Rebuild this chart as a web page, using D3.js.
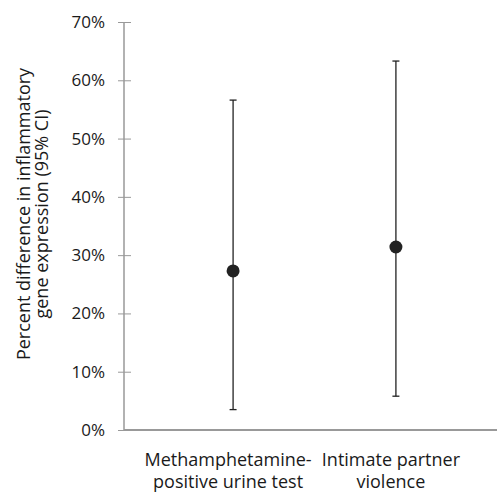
<!DOCTYPE html>
<html>
<head>
<meta charset="utf-8">
<script src="https://cdn.jsdelivr.net/npm/d3@7"></script>
<style>
  body { margin: 0; background: #fff; }
  svg { display: block; font-family: "Open Sans", sans-serif; }
</style>
</head>
<body>
<svg width="497" height="493"></svg>
<script>
var categories = [["Methamphetamine-", "positive urine test"], ["Intimate partner", "violence"]];
var estimates = [27.3, 31.4];
var lower = [3.5, 5.8];
var upper = [56.6, 63.3];
var yTicks = [0, 10, 20, 30, 40, 50, 60, 70];
var yLabel = ["Percent difference in inflammatory", "gene expression (95% CI)"];

var svg = d3.select("svg");
const width = +svg.attr("width");

var data = estimates.map((d, i) => {
  return { name: categories[i].join(" "), lines: categories[i], est: d, lo: lower[i], hi: upper[i] };
});

var x = d3
  .scalePoint()
  .domain(data.map(d => d.name))
  .range([124, 505])
  .padding(0.67);

var y = d3
  .scaleLinear()
  .domain([0, 70])
  .range([430, 22]);

// y axis, ticks cross the line like in excel
var yAxis = svg
  .append("g")
  .attr("transform", "translate(124,0)")
  .call(
    d3
      .axisLeft(y)
      .tickValues(yTicks)
      .tickSize(6)
      .tickPadding(13)
      .tickFormat(d => d + "%")
  );
yAxis.select(".domain").attr("stroke", "#999").attr("stroke-width", 1.5).attr("d", "M0," + y(70) + "V" + y(0));
yAxis.selectAll(".tick line").attr("x1", 7).attr("x2", -6).attr("stroke", "#999");
yAxis.selectAll(".tick text").attr("fill", "#1a1a1a").style("font-size", "17px").style("font-family", "'Open Sans', sans-serif");

// x axis line
svg
  .append("line")
  .attr("x1", 124)
  .attr("x2", width)
  .attr("y1", y(0))
  .attr("y2", y(0))
  .attr("stroke", "#999")
  .attr("stroke-width", 2);

// category labels
var labels = svg
  .selectAll(".cat")
  .data(data)
  .enter()
  .append("text")
  .attr("class", "cat")
  .attr("text-anchor", "middle")
  .attr("fill", "#1a1a1a")
  .style("font-size", "18px");
labels
  .selectAll("tspan")
  .data(d => d.lines.map(l => ({ l: l, x: x(d.name) - 5 })))
  .enter()
  .append("tspan")
  .attr("x", d => d.x)
  .attr("y", (d, i) => 466 + i * 22)
  .text(d => d.l);

// error bars
var g = svg.selectAll(".bar").data(data).enter().append("g").attr("class", "bar");
g.append("line")
  .attr("x1", d => x(d.name))
  .attr("x2", d => x(d.name))
  .attr("y1", d => y(d.lo))
  .attr("y2", d => y(d.hi))
  .attr("stroke", "#222")
  .attr("stroke-width", 1.3);
g.selectAll(".cap")
  .data(d => [d.lo, d.hi].map(v => ({ x: x(d.name), v: v })))
  .enter()
  .append("line")
  .attr("class", "cap")
  .attr("x1", d => d.x - 3.5)
  .attr("x2", d => d.x + 3.5)
  .attr("y1", d => y(d.v))
  .attr("y2", d => y(d.v))
  .attr("stroke", "#222")
  .attr("stroke-width", 1.3);
g.append("circle")
  .attr("cx", d => x(d.name))
  .attr("cy", d => y(d.est))
  .attr("r", 6.5)
  .attr("fill", "#222");

// y label
svg
  .append("text")
  .attr("transform", "translate(25,214) rotate(-90)")
  .attr("text-anchor", "middle")
  .attr("fill", "#1a1a1a")
  .style("font-size", "18px")
  .selectAll("tspan")
  .data(yLabel)
  .enter()
  .append("tspan")
  .attr("x", 0)
  .attr("y", (d, i) => 5 + i * 18)
  .text(d => d);
</script>
</body>
</html>
